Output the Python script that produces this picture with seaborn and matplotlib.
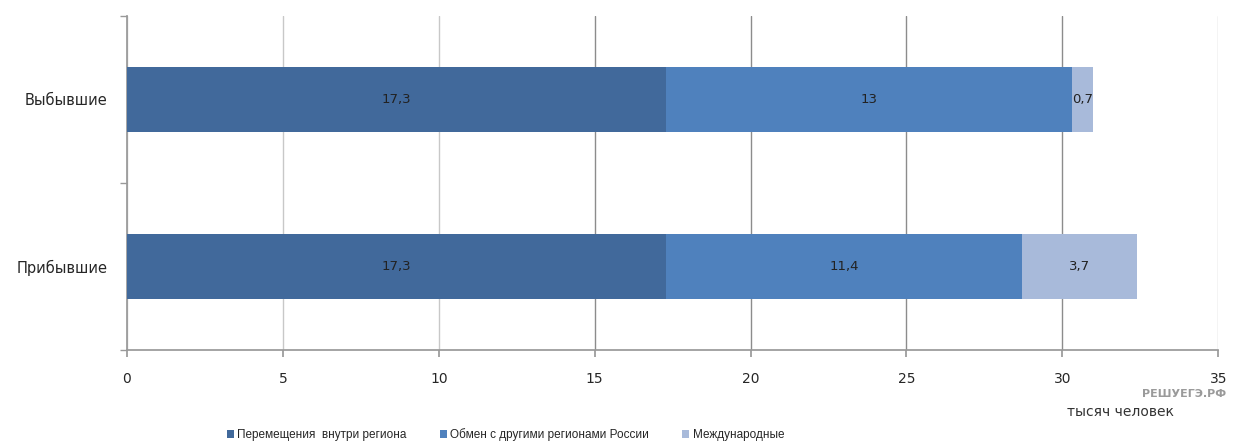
import numpy as np
import pandas as pd
import seaborn as sns
import matplotlib.pyplot as plt
from matplotlib.patches import Patch

# data
categories = ["Выбывшие", "Прибывшие"]
series = ["Перемещения  внутри региона", "Обмен с другими регионами России", "Международные"]
within_region = [17.3, 17.3]
other_regions = [13.0, 11.4]
international = [0.7, 3.7]
value_labels = [["17,3", "13", "0,7"], ["17,3", "11,4", "3,7"]]
colors = ["#41699B", "#4F81BD", "#A8BADA"]

sns.set_theme(style="white")
plt.rcParams['font.family'] = ['DejaVu Sans']

vals = np.array([within_region, other_regions, international]).T
cum = np.cumsum(vals, axis=1)
df = pd.DataFrame(cum, columns=series)
df["cat"] = categories

fig = plt.figure(figsize=(12.33, 4.41), dpi=100)
ax = fig.add_axes([0.103, 0.206, 0.885, 0.758])

# draw cumulative totals, widest first, so they stack visually
for i in [2, 1, 0]:
    sns.barplot(data=df, x=series[i], y="cat", color=colors[i], orient="h",
                width=0.39, saturation=1, ax=ax, edgecolor="none", zorder=3)

for r in range(len(categories)):
    for i in range(3):
        start = cum[r, i] - vals[r, i]
        ax.text(start + vals[r, i] / 2, r, value_labels[r][i], ha="center", va="center",
                fontsize=9.5, color="#222222", zorder=5)

ax.set_xlim(0, 35)
ax.set_ylim(1.5, -0.5)
ax.set_xticks(np.arange(0, 36, 5))
ax.set_xticklabels([str(v) for v in range(0, 36, 5)], fontsize=10)
ax.set_yticks([0, 1])
ax.set_yticklabels(categories, fontsize=10.5)
ax.set_yticks([-0.5, 0.5, 1.5], minor=True)
ax.tick_params(axis="y", which="major", length=0, pad=14)
ax.tick_params(axis="y", which="minor", length=5, color="#999999", direction="out", left=True)
ax.tick_params(axis="x", length=5, color="#999999", direction="out", bottom=True, pad=11)
ax.set_xlabel("")
ax.set_ylabel("")
ax.xaxis.grid(True, color="#a0a0a0", linewidth=1.0, zorder=0)
ax.set_axisbelow(True)
# the left part of the grid is lighter in the original
for k, gl in enumerate(ax.get_xgridlines()):
    gl.set_color("#c8c8c8" if k in (0, 1, 2, 7) else "#8c8c8c")

ax.spines["top"].set_visible(False)
ax.spines["right"].set_visible(False)
ax.spines["left"].set_color("#999999")
ax.spines["bottom"].set_color("#999999")

fig.text(0.909, 0.066, "тысяч человек", ha="center", va="center", fontsize=10, color="#333333")
fig.text(0.960, 0.107, "РЕШУЕГЭ.РФ", ha="center", va="center", fontsize=8,
         color="#9a9a9a", fontweight="bold")

handles = [Patch(facecolor=c, edgecolor="none") for c in colors]
fig.legend(handles, series, loc="lower center", bbox_to_anchor=(0.41, -0.025), ncol=3,
           frameon=False, prop={"family": "Liberation Sans", "size": 8.5},
           handlelength=0.6, handleheight=0.6, handletextpad=0.3, columnspacing=2.8)

fig.savefig("out.png", dpi=100)
